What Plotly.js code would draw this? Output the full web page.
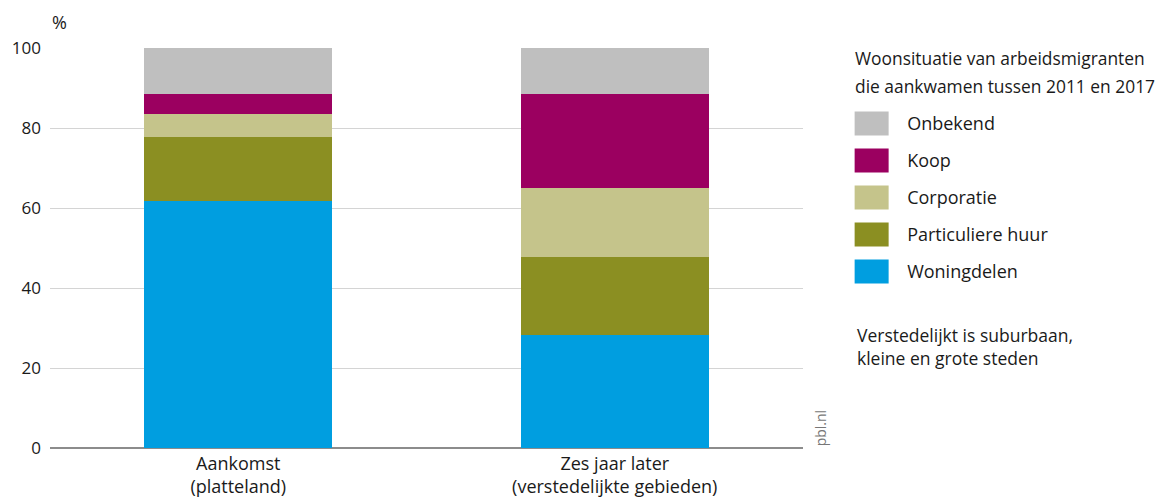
<!DOCTYPE html>
<html>
<head>
<meta charset="utf-8">
<script src="https://cdn.plot.ly/plotly-3.0.1.min.js"></script>
<style>
  html, body { margin: 0; padding: 0; background: #fff; }
  #chart { width: 1167px; height: 503px; }
</style>
</head>
<body>
<div id="chart"></div>
<script>
const categories = ["Aankomst<br>(platteland)", "Zes jaar later<br>(verstedelijkte gebieden)"];
const woningdelen = [61.7, 28.2];
const particuliereHuur = [16.0, 19.6];
const corporatie = [5.7, 17.2];
const koop = [5.0, 23.5];
const onbekend = [11.6, 11.5];
const yTickValues = [0, 20, 40, 60, 80, 100];
const yTickLabels = ["0", "20", "40", "60", "80", "100"];

const seriesNames = ["Woningdelen", "Particuliere huur", "Corporatie", "Koop", "Onbekend"];
const seriesValues = [woningdelen, particuliereHuur, corporatie, koop, onbekend];
const seriesColors = ["#009ee0", "#8b8f22", "#c5c48b", "#9b0060", "#bfbfbf"];

const FONT = "Open Sans, Lato, sans-serif";
const TXT = "#1a1a1a";

const traces = seriesNames.map((name, i) => ({
  type: "bar",
  name: name,
  x: categories,
  y: seriesValues[i],
  legendgroup: "g" + i,
  legendrank: seriesNames.length - i,
  marker: { color: seriesColors[i], line: { width: 0 } },
  hoverinfo: "name+y"
}));

const layout = {
  width: 1167,
  height: 503,
  margin: { l: 50, r: 364, t: 48, b: 55 },
  paper_bgcolor: "#ffffff",
  plot_bgcolor: "#ffffff",
  barmode: "stack",
  bargap: 0.5,
  font: { family: FONT, size: 17, color: TXT },
  xaxis: {
    type: "category",
    range: [-0.5, 1.5],
    showgrid: false,
    showline: false,
    ticks: "",
    tickfont: { family: FONT, size: 18, color: TXT },
    ticklabelstandoff: 3
  },
  yaxis: {
    range: [0, 100],
    tickvals: yTickValues,
    ticktext: yTickLabels,
    showgrid: true,
    gridcolor: "#d4d4d4",
    gridwidth: 1,
    zeroline: true,
    zerolinecolor: "#8c8c8c",
    zerolinewidth: 1.5,
    showline: false,
    ticks: "",
    ticklabelstandoff: 8,
    tickfont: { family: FONT, size: 17, color: TXT }
  },
  showlegend: true,
  legend: {
    x: 1.044,
    xanchor: "left",
    y: 0.857,
    yanchor: "top",
    traceorder: "grouped",
    tracegroupgap: 10.6,
    itemwidth: 61,
    bgcolor: "rgba(0,0,0,0)",
    font: { family: FONT, size: 18, color: TXT },
    itemclick: false,
    itemdoubleclick: false
  },
  annotations: [
    { text: "%", xref: "paper", yref: "paper", x: 0, y: 1.065, xanchor: "left", yanchor: "middle",
      showarrow: false, font: { family: FONT, size: 18, color: TXT } },
    { text: "Woonsituatie van arbeidsmigranten", xref: "paper", yref: "paper",
      x: 1.067, y: 0.975, xanchor: "left", yanchor: "middle", showarrow: false,
      font: { family: FONT, size: 17.4, color: TXT } },
    { text: "die aankwamen tussen 2011 en 2017", xref: "paper", yref: "paper",
      x: 1.067, y: 0.905, xanchor: "left", yanchor: "middle", showarrow: false,
      font: { family: FONT, size: 17.4, color: TXT } },
    { text: "Verstedelijkt is suburbaan,<br>kleine en grote steden", xref: "paper", yref: "paper",
      x: 1.0695, y: 0.255, xanchor: "left", yanchor: "middle", align: "left", showarrow: false,
      font: { family: FONT, size: 17.5, color: TXT } },
    { text: "pbl.nl", xref: "paper", yref: "paper", x: 1.023, y: 0.0, xanchor: "center", yanchor: "bottom",
      textangle: -90, showarrow: false, font: { family: FONT, size: 14, color: "#777777" } }
  ]
};

Plotly.newPlot("chart", traces, layout, { displayModeBar: false }).then(gd => {
  // enlarge legend swatches to match the reference's wide blocks
  gd.querySelectorAll(".legend .legendpoints path").forEach(p => {
    p.setAttribute("d", "M17,12H-17V-12H17Z");
  });
});
</script>
</body>
</html>
